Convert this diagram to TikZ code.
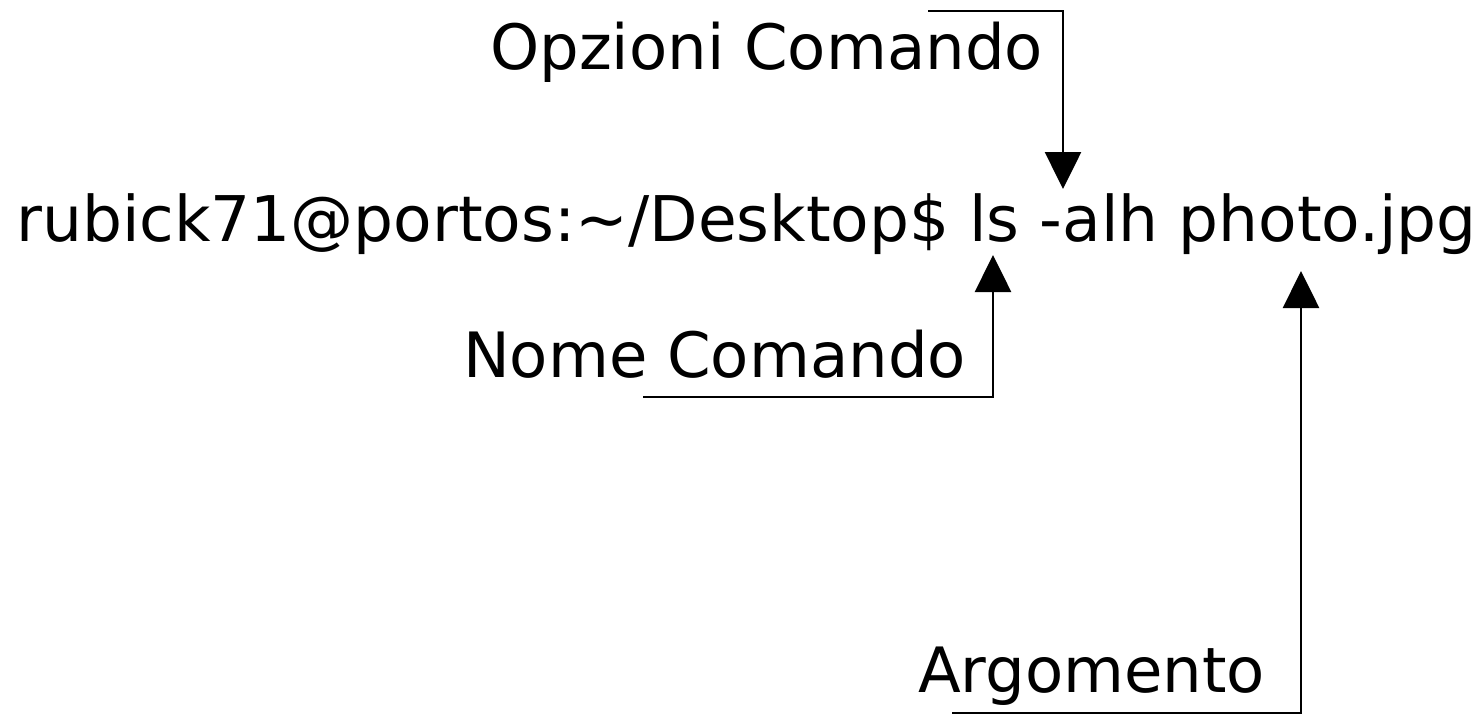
\documentclass[tikz,border=0pt]{standalone}
\usepackage{fontspec}
\setmainfont{DejaVu Sans}
\usetikzlibrary{arrows.meta}
\begin{document}
\begin{tikzpicture}[x=1pt,y=-1pt,
  lbl/.style={inner sep=0pt,anchor=base west,font=\fontsize{62.5}{70}\selectfont},
  callout/.style={line width=2.6pt,-{Triangle[width=36pt,length=37pt]}}]
\useasboundingbox (0,0) rectangle (1482,716);
\node[lbl,font=\fontsize{63}{70}\selectfont] (cmd) at (16,241) {rubick71@portos:\char"007E/Desktop\$ ls -alh photo.jpg};
\node[lbl] (opt) at (490,69) {Opzioni Comando};
\node[lbl] (name) at (463,377) {Nome Comando};
\node[lbl] (arg) at (918,692) {Argomento};
% connector coordinates
\coordinate (optS) at (928,11);
\coordinate (optC) at (1063,11);
\coordinate (optT) at (1063,189);
\coordinate (nameS) at (643,397);
\coordinate (nameC) at (993,397);
\coordinate (nameT) at (993,255);
\coordinate (argS) at (952,713);
\coordinate (argC) at (1301,713);
\coordinate (argT) at (1301,271);
\draw[callout] (optS) -- (optC) -- (optT);
\draw[callout] (nameS) -- (nameC) -- (nameT);
\draw[callout] (argS) -- (argC) -- (argT);
\end{tikzpicture}
\end{document}
